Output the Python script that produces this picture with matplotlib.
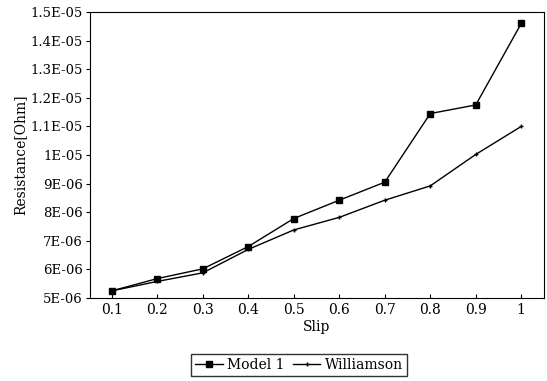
import matplotlib
matplotlib.use('Agg')
import matplotlib.pyplot as plt

slip = [0.1, 0.2, 0.3, 0.4, 0.5, 0.6, 0.7, 0.8, 0.9, 1.0]
model1 = [5.25e-6, 5.68e-6, 6.02e-6, 6.8e-6, 7.78e-6, 8.42e-6, 9.05e-6, 11.45e-6, 11.75e-6, 14.6e-6]
williamson = [5.25e-6, 5.58e-6, 5.88e-6, 6.7e-6, 7.38e-6, 7.82e-6, 8.42e-6, 8.92e-6, 10.02e-6, 11.0e-6]

y_ticks = [5e-6, 6e-6, 7e-6, 8e-6, 9e-6, 1e-5, 1.1e-5, 1.2e-5, 1.3e-5, 1.4e-5, 1.5e-5]
y_labels = ['5E-06', '6E-06', '7E-06', '8E-06', '9E-06', '1E-05',
            '1.1E-05', '1.2E-05', '1.3E-05', '1.4E-05', '1.5E-05']
x_labels = ['0.1', '0.2', '0.3', '0.4', '0.5', '0.6', '0.7', '0.8', '0.9', '1']

plt.rcParams['font.family'] = ['DejaVu Serif']

fig = plt.figure(figsize=(5.47, 3.81), dpi=100)
ax = fig.add_axes([0.1645, 0.2178, 0.83, 0.7507])

ax.plot(slip, model1, color='black', lw=1, marker='s', ms=5, label='Model 1')
ax.plot(slip, williamson, color='black', lw=1, marker='+', ms=3, label='Williamson')

ax.set_xlim(0.052, 1.05)
ax.set_ylim(5e-6, 1.5e-5)
ax.set_yticks(y_ticks)
ax.set_yticklabels(y_labels, fontsize=9.5)
ax.set_xticks(slip)
ax.set_xticklabels(x_labels, fontsize=10)
ax.tick_params(axis='y', direction='out', length=3, pad=2)
ax.tick_params(axis='x', direction='in', length=3)

ax.set_xlabel('Slip', fontsize=10, labelpad=2)
ax.set_ylabel('Resistance[Ohm]', fontsize=10, labelpad=2)

ax.legend(loc='upper center', bbox_to_anchor=(0.46, -0.17), ncol=2, fontsize=10,
          frameon=True, fancybox=False, edgecolor='black', handlelength=2.0,
          columnspacing=0.6, handletextpad=0.3, borderpad=0.3)

fig.savefig('out.png', dpi=100)
